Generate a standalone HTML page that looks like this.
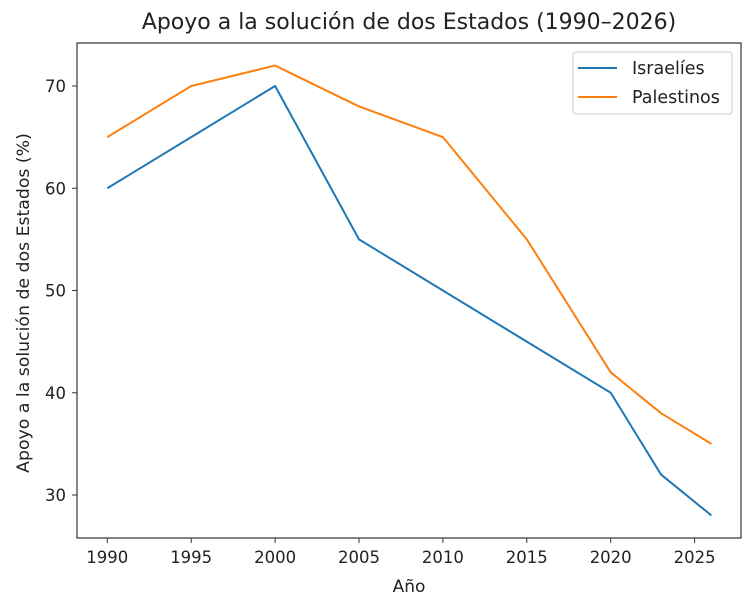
<!DOCTYPE html>
<html><head><meta charset="utf-8"><style>
body{margin:0;background:#fff}
svg text{font-family:"DejaVu Sans","Liberation Sans",sans-serif;fill:#222}
</style></head><body>
<svg id="chart" width="754" height="609" xmlns="http://www.w3.org/2000/svg">
<text x="409" y="29" font-size="22" text-anchor="middle">Apoyo a la solución de dos Estados (1990–2026)</text>
<g id="grid"></g>
<g id="series"></g>
<rect x="77" y="43" width="664" height="495" fill="none" stroke="#333" stroke-width="1.2"/>
<text x="409" y="592" font-size="17" text-anchor="middle">Año</text>
<text transform="translate(29,303) rotate(-90)" font-size="17.3" text-anchor="middle">Apoyo a la solución de dos Estados (%)</text>
<g>
<rect x="573" y="52" width="159" height="62" rx="3" fill="#fff" stroke="#ccc"/>
<line x1="578" y1="68" x2="617" y2="68" stroke="#1f77b4" stroke-width="2"/>
<text x="632" y="74" font-size="17.5">Israelíes</text>
<line x1="578" y1="97" x2="617" y2="97" stroke="#ff7f0e" stroke-width="2"/>
<text x="632" y="103" font-size="17.5">Palestinos</text>
</g>
</svg>
<script>
const years=[1990,1995,2000,2005,2010,2015,2020,2023,2026];
const israelies=[60,65,70,55,50,45,40,32,28];
const palestinos=[65,70,72,68,65,55,42,38,35];
const xTicks=[1990,1995,2000,2005,2010,2015,2020,2025];
const yTicks=[30,40,50,60,70];
const NS="http://www.w3.org/2000/svg";
function xs(v){return 107.3+(v-1990)*16.78;}
function ys(v){return 495-(v-30)*10.225;}
const g=document.getElementById('grid'),s=document.getElementById('series');
function mk(tag,attrs,parent){const e=document.createElementNS(NS,tag);for(const k in attrs)e.setAttribute(k,attrs[k]);parent.appendChild(e);return e;}
xTicks.forEach(t=>{
  const l=mk('line',{x1:xs(t),x2:xs(t),y1:538,y2:543,stroke:'#333'},g);
  
  
  const tx=mk('text',{x:xs(t),y:563,'font-size':16.5,'text-anchor':'middle'},g);
  tx.textContent=t;
  
  
});
yTicks.forEach(t=>{
  const l=mk('line',{x1:72,x2:77,y1:ys(t),y2:ys(t),stroke:'#333'},g);
  
  
  const tx=mk('text',{x:66,y:ys(t)+6,'font-size':16.5,'text-anchor':'end'},g);
  tx.textContent=t;
  
  
});
function line(vals,color,name){
  const p=mk('polyline',{points:vals.map((v,i)=>xs(years[i])+','+ys(v)).join(' '),fill:'none',stroke:color,'stroke-width':2,'stroke-linejoin':'round'},s);
  
  
}
line(israelies,'#1f77b4','israelies-line');
line(palestinos,'#ff7f0e','palestinos-line');
</script>
</body></html>
